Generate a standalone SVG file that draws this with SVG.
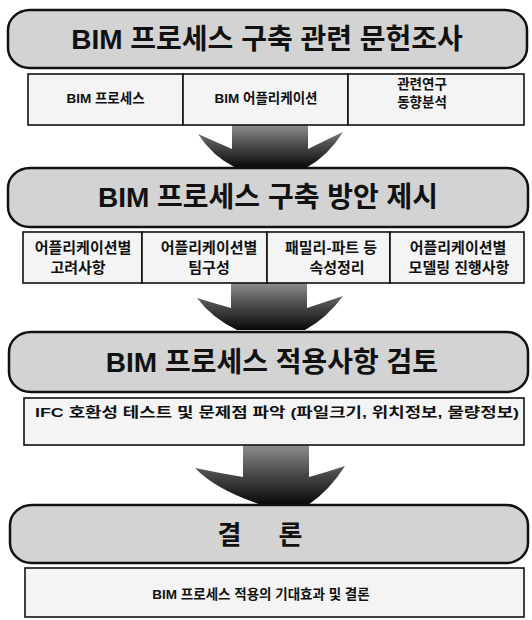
<svg xmlns="http://www.w3.org/2000/svg" width="532" height="620" viewBox="0 0 532 620">
<defs>
<linearGradient id="arrowGrad" x1="0" y1="0" x2="0" y2="1">
<stop offset="0" stop-color="#8e8e8e"/>
<stop offset="0.4" stop-color="#555555"/>
<stop offset="1" stop-color="#080808"/>
</linearGradient>
</defs>
<style>
.hdr{fill:#d3d3d3;stroke:#111;stroke-width:2.5}
.box{fill:#f4f4f4;stroke:#111;stroke-width:1.6}
.ht{font-family:"Liberation Sans","Noto Sans CJK KR",sans-serif;font-weight:bold;font-size:28px;fill:#111;text-anchor:middle}
.st{font-family:"Liberation Sans","Noto Sans CJK KR",sans-serif;font-weight:bold;font-size:13.5px;fill:#111;text-anchor:middle}
.st2{font-family:"Liberation Sans","Noto Sans CJK KR",sans-serif;font-weight:bold;font-size:15px;fill:#111;text-anchor:middle}
.arrow{fill:url(#arrowGrad);stroke:none}
</style>
<rect x="0" y="0" width="532" height="620" fill="#ffffff"/>

<g id="connectors">
<path class="arrow" d="M232,125 L308,125 L308,149 Q326,140 343,132 Q328,156 306,168 L236,168 Q212,156 198,134 Q214,141 232,149 Z"/>
<path class="arrow" d="M231,283 L307,283 L307,308 Q325,302 343,296 Q327,318 305,330 L237,330 Q212,318 197,298 Q213,303 231,308 Z"/>
<path class="arrow" d="M243,445 L309,445 L309,477 Q327,472 345,466 Q330,490 308,505 L262,505 Q216,490 195,468 Q219,473 243,477 Z"/>
</g>

<g id="header1">
<rect class="hdr" x="8" y="10" width="519" height="58" rx="22" ry="20"/>
<text class="ht" x="267" y="49">BIM 프로세스 구축 관련 문헌조사</text>
</g>
<g id="r1c1">
<rect class="box" x="28" y="74" width="155" height="51"/>
<text class="st" x="105.5" y="103">BIM 프로세스</text>
</g>
<g id="r1c2">
<rect class="box" x="183" y="74" width="165" height="51"/>
<text class="st" x="266" y="103">BIM 어플리케이션</text>
</g>
<g id="r1c3">
<rect class="box" x="348" y="74" width="176" height="51"/>
<text class="st" x="422" y="89">관련연구</text>
<text class="st" x="422" y="107">동향분석</text>
</g>

<g id="header2">
<rect class="hdr" x="8" y="168" width="520" height="59" rx="22" ry="20"/>
<text class="ht" x="268" y="207">BIM 프로세스 구축 방안 제시</text>
</g>
<g id="r2c1">
<rect class="box" x="23" y="232" width="119" height="51"/>
<text class="st2" x="83" y="253">어플리케이션별</text>
<text class="st2" x="78" y="273">고려사항</text>
</g>
<g id="r2c2">
<rect class="box" x="142" y="232" width="125" height="51"/>
<text class="st2" x="209" y="253">어플리케이션별</text>
<text class="st2" x="209" y="273">팀구성</text>
</g>
<g id="r2c3">
<rect class="box" x="267" y="232" width="123" height="51"/>
<text class="st2" x="331" y="253">패밀리-파트 등</text>
<text class="st2" x="337" y="273">속성정리</text>
</g>
<g id="r2c4">
<rect class="box" x="390" y="232" width="134" height="51"/>
<text class="st2" x="458" y="253">어플리케이션별</text>
<text class="st2" x="459" y="273">모델링 진행사항</text>
</g>

<g id="header3">
<rect class="hdr" x="9" y="332" width="519" height="60" rx="22" ry="20"/>
<text class="ht" x="272" y="372">BIM 프로세스 적용사항 검토</text>
</g>
<g id="r3">
<rect class="box" x="24" y="398" width="500" height="47"/>
<text class="st" x="277" y="417" textLength="484" lengthAdjust="spacingAndGlyphs">IFC 호환성 테스트 및 문제점 파악 (파일크기, 위치정보, 물량정보)</text>
</g>

<g id="header4">
<rect class="hdr" x="10" y="505" width="518" height="58" rx="22" ry="20"/>
<text class="ht" x="260" y="544" style="font-size:26px;word-spacing:30px">결 론</text>
</g>
<g id="r4">
<rect class="box" x="25" y="568" width="499" height="49"/>
<text class="st" x="261" y="599">BIM 프로세스 적용의 기대효과 및 결론</text>
</g>
</svg>
